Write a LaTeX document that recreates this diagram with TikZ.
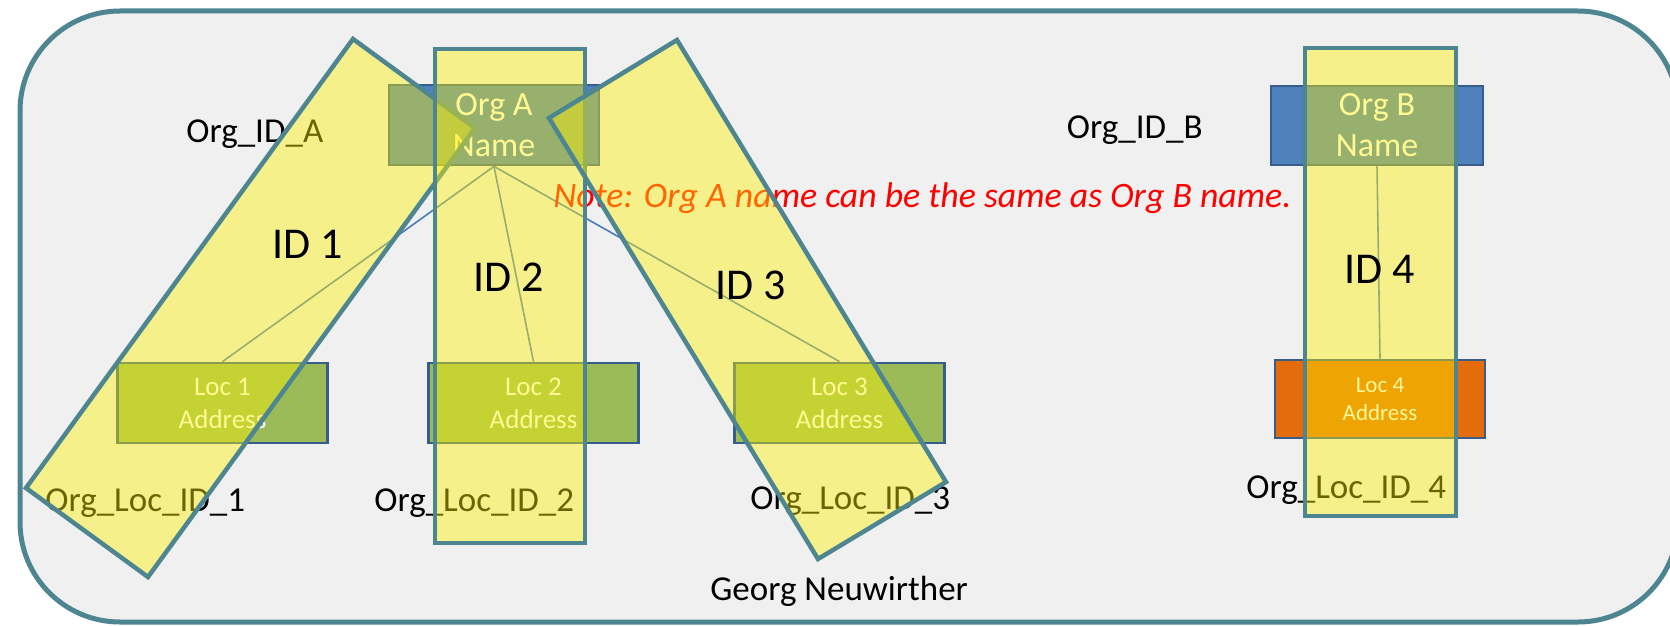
\documentclass[tikz,border=0pt]{standalone}
\usepackage{fontspec}
\setmainfont{Carlito}
\definecolor{tealline}{HTML}{4D8691}
\definecolor{bggray}{HTML}{F0F0F0}
\definecolor{boxblue}{HTML}{4F81BD}
\definecolor{boxborder}{HTML}{385D8A}
\definecolor{boxgreen}{HTML}{9BBB59}
\definecolor{boxorange}{HTML}{E46C0A}
\definecolor{connblue}{HTML}{4A7EBB}
\definecolor{notered}{HTML}{FF0000}
\begin{document}
\begin{tikzpicture}[x=0.5pt,y=-0.5pt,
  band/.style={draw=tealline, line width=2.25pt, fill=yellow, fill opacity=0.42, line join=miter},
  box/.style={draw=boxborder, line width=1.4pt, inner sep=0pt, text=white, align=center,
              minimum width=105pt, minimum height=40pt},
  orgtxt/.style={font=\fontsize{17}{20.5}\selectfont},
  loctxt/.style={font=\fontsize{13.5}{16.5}\selectfont},
  lbl/.style={inner sep=0pt, font=\fontsize{17.5}{21}\selectfont},
  idl/.style={inner sep=0pt, font=\fontsize{22}{26}\selectfont},
  conn/.style={draw=connblue, line width=0.8pt}]
\useasboundingbox (0,0) rectangle (1670,626);
\fill[white] (0,0) rectangle (1670,626);
\clip (0,0) rectangle (1670,626);
\draw[tealline, line width=2.5pt, fill=bggray, rounded corners=50pt] (20,11) rectangle (1678,622);

% boxes
\node[box, orgtxt, fill=boxblue] (orgA) at (494,125) {Org A\\Name};
\node[box, orgtxt, fill=boxblue, minimum width=106pt, minimum height=39.5pt] (orgB) at (1377,125.5) {Org B\\Name};
\node[box, loctxt, fill=boxgreen] (loc1) at (222.5,403) {Loc 1\\Address};
\node[box, loctxt, fill=boxgreen] (loc2) at (533.5,403) {Loc 2\\Address};
\node[box, loctxt, fill=boxgreen] (loc3) at (839.5,403) {Loc 3\\Address};
\node[box, fill=boxorange, minimum height=39pt, font=\fontsize{11.5}{14}\selectfont] (loc4) at (1380,399) {Loc 4\\Address};

% connectors
\draw[conn] (orgA.south) -- (loc1.north);
\draw[conn] (orgA.south) -- (loc2.north);
\draw[conn] (orgA.south) -- (loc3.north);
\draw[conn] (orgB.south) -- (loc4.north);

% labels
\node[lbl, anchor=base west] (idA) at (186,142) {Org\_ID\_A};
\node[lbl, anchor=base east] (idB) at (1203,139) {Org\_ID\_B};
\node[lbl, anchor=base west] (lid1) at (45,511) {Org\_Loc\_ID\_1};
\node[lbl, anchor=base west] (lid2) at (374,511) {Org\_Loc\_ID\_2};
\node[lbl, anchor=base west] (lid3) at (750,509) {Org\_Loc\_ID\_3};
\node[lbl, anchor=base west] (lid4) at (1246,498) {Org\_Loc\_ID\_4};
\node[lbl, anchor=base west] (author) at (710,600) {Georg Neuwirther};
\node[lbl, anchor=base west, text=notered, font=\itshape\fontsize{17.9}{21}\selectfont] (note) at (553,207) {Note: Org A name can be the same as Org B name.};

% highlight bands
\draw[band] (353,39) -- (475,128) -- (148,577) -- (26,488) -- cycle;
\draw[band] (435,49) rectangle (585,543);
\draw[band] (549,118) -- (677,40) -- (946,482) -- (818,559) -- cycle;
\draw[band] (1305,48) rectangle (1456,516);

% band labels
\node[idl] (id1) at (308,244) {ID 1};
\node[idl] (id2) at (509,277) {ID 2};
\node[idl] (id3) at (751,285) {ID 3};
\node[idl] (id4) at (1380,269) {ID 4};
\end{tikzpicture}
\end{document}
